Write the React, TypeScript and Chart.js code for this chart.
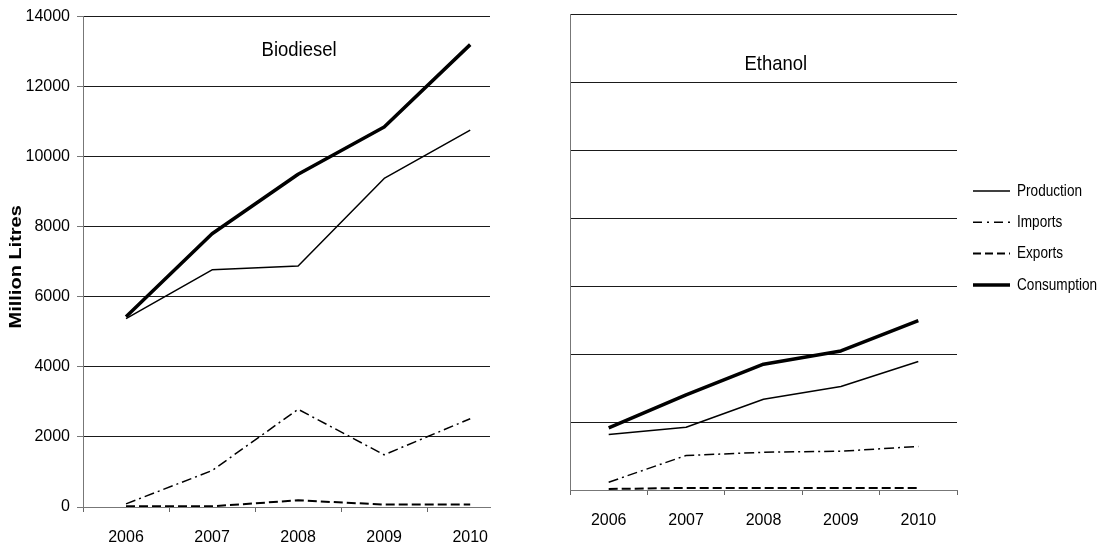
import { useEffect, useRef } from 'react';
import { Chart, registerables } from 'chart.js';

Chart.register(...registerables);

// ---- Data ----
const years = [2006, 2007, 2008, 2009, 2010];
const seriesNames = ['Production', 'Imports', 'Exports', 'Consumption'];

const biodieselProduction = [5380, 6770, 6880, 9380, 10760];
const biodieselImports = [90, 1040, 2790, 1490, 2520];
const biodieselExports = [20, 20, 190, 70, 70];
const biodieselConsumption = [5430, 7800, 9500, 10850, 13200];

const ethanolProduction = [1630, 1845, 2670, 3045, 3780];
const ethanolImports = [230, 1015, 1110, 1140, 1280];
const ethanolExports = [30, 60, 60, 60, 60];
const ethanolConsumption = [1825, 2800, 3700, 4090, 4980];

const yTickValues = [0, 2000, 4000, 6000, 8000, 10000, 12000, 14000];
const yAxisTitle = 'Million Litres';

// ---- Styles ----
const FONT = "'Liberation Sans', Arial, sans-serif";
const seriesWidths = [1.5, 1.5, 2, 3.5];
const seriesDashes: number[][] = [[], [10, 4, 2, 4], [9, 4], []];
const legendDashes: number[][] = [[], [9, 5, 2, 5], [8, 4], []];

const panelTitlePlugin = {
  id: 'panelTitle',
  afterDatasetsDraw(chart: any, _args: any, opts: any) {
    if (!opts || !opts.text) return;
    const { ctx, chartArea } = chart;
    const x = chartArea.left + chartArea.width * opts.xFrac;
    const y = chartArea.top + opts.yOffset;
    ctx.save();
    ctx.font = `${opts.size}px ${FONT}`;
    ctx.fillStyle = '#000';
    ctx.textAlign = 'center';
    ctx.textBaseline = 'middle';
    ctx.translate(x, y);
    ctx.scale(opts.squeeze, 1);
    ctx.fillText(opts.text, 0, 0);
    ctx.restore();
  },
};

const axisTitlePlugin = {
  id: 'axisTitle',
  afterDraw(chart: any, _args: any, opts: any) {
    if (!opts || !opts.text) return;
    const { ctx, chartArea } = chart;
    const y = (chartArea.top + chartArea.bottom) / 2 + opts.yShift;
    ctx.save();
    ctx.font = `bold ${opts.size}px ${FONT}`;
    ctx.fillStyle = '#000';
    ctx.textAlign = 'center';
    ctx.textBaseline = 'middle';
    ctx.translate(opts.x, y);
    ctx.rotate(-Math.PI / 2);
    ctx.scale(1, opts.squeeze);
    ctx.fillText(opts.text, 0, 0);
    ctx.restore();
  },
};

const sideLegendPlugin = {
  id: 'sideLegend',
  afterDraw(chart: any, _args: any, opts: any) {
    if (!opts || !opts.show) return;
    const { ctx, chartArea } = chart;
    const x0 = chartArea.right + opts.gap;
    const textX = x0 + opts.lineLength + opts.textGap;
    chart.data.datasets.forEach((ds: any, i: number) => {
      const y = chartArea.top + opts.firstOffset + i * opts.step;
      ctx.save();
      ctx.strokeStyle = '#000';
      ctx.lineWidth = ds.borderWidth;
      ctx.setLineDash(legendDashes[i]);
      ctx.beginPath();
      ctx.moveTo(x0, y);
      ctx.lineTo(x0 + opts.lineLength, y);
      ctx.stroke();
      ctx.setLineDash([]);
      ctx.font = `${opts.size}px ${FONT}`;
      ctx.fillStyle = '#000';
      ctx.textAlign = 'left';
      ctx.textBaseline = 'middle';
      ctx.translate(textX, y);
      ctx.scale(opts.squeeze, 1);
      ctx.fillText(ds.label, 0, 0);
      ctx.restore();
    });
  },
};

function xTickValues(xMax: number) {
  const vals: number[] = [];
  years.forEach((y) => {
    vals.push(y - 0.5);
    vals.push(y);
  });
  vals.push(years[years.length - 1] + 0.5);
  return vals.filter((v) => v <= xMax + 1e-9);
}

type PanelSpec = {
  values: number[][];
  xMax: number;
  title: string;
  titleXFrac: number;
  titleYOffset: number;
  showYLabels: boolean;
  yAxisWidth: number;
  xAxisHeight: number;
  padding: { top: number; right: number; left: number; bottom: number };
  axisTitle: boolean;
  legend: boolean;
};

function buildConfig(spec: PanelSpec): any {
  const datasets = seriesNames.map((name, i) => ({
    label: name,
    data: years.map((yr, j) => ({ x: yr, y: spec.values[i][j] })),
    borderColor: '#000',
    backgroundColor: '#000',
    borderWidth: seriesWidths[i],
    borderDash: seriesDashes[i],
    pointRadius: 0,
    pointHoverRadius: 0,
    tension: 0,
    fill: false,
    borderJoinStyle: 'round',
  }));
  return {
    type: 'line',
    data: { datasets },
    plugins: [panelTitlePlugin, axisTitlePlugin, sideLegendPlugin],
    options: {
      animation: false,
      responsive: false,
      events: [],
      layout: { padding: spec.padding },
      scales: {
        x: {
          type: 'linear',
          min: years[0] - 0.5,
          max: spec.xMax,
          afterBuildTicks: (scale: any) => {
            scale.ticks = xTickValues(spec.xMax).map((v) => ({ value: v }));
          },
          afterFit: (scale: any) => {
            scale.height = spec.xAxisHeight;
          },
          grid: {
            drawOnChartArea: false,
            drawTicks: true,
            tickLength: 5,
            lineWidth: 1,
            color: (c: any) =>
              c.tick && years.includes(c.tick.value) ? 'rgba(0,0,0,0)' : '#666',
          },
          border: { display: true, color: '#777', width: 1 },
          ticks: {
            autoSkip: false,
            maxRotation: 0,
            minRotation: 0,
            padding: 16,
            color: '#000',
            font: { family: FONT, size: 16 },
            callback: (v: any) => (years.includes(v) ? String(v) : ''),
          },
        },
        y: {
          type: 'linear',
          min: yTickValues[0],
          max: yTickValues[yTickValues.length - 1],
          afterBuildTicks: (scale: any) => {
            scale.ticks = yTickValues.map((v) => ({ value: v }));
          },
          afterFit: (scale: any) => {
            scale.width = spec.yAxisWidth;
          },
          grid: {
            drawTicks: spec.showYLabels,
            tickLength: 6,
            lineWidth: 1,
            tickColor: '#777',
            color: (c: any) => (c.tick && c.tick.value === 0 ? '#777' : '#1a1a1a'),
          },
          border: { display: true, color: '#777', width: 1 },
          ticks: {
            display: spec.showYLabels,
            padding: 7,
            color: '#000',
            font: { family: FONT, size: 16 },
            callback: (v: any) => String(v),
          },
        },
      },
      plugins: {
        legend: { display: false },
        tooltip: { enabled: false },
        panelTitle: {
          text: spec.title,
          xFrac: spec.titleXFrac,
          yOffset: spec.titleYOffset,
          size: 21,
          squeeze: 0.88,
        },
        axisTitle: spec.axisTitle
          ? { text: yAxisTitle, x: 17, yShift: 5, size: 20, squeeze: 0.8 }
          : false,
        sideLegend: spec.legend
          ? {
              show: true,
              gap: 16,
              lineLength: 37,
              textGap: 7,
              firstOffset: 177,
              step: 31.3,
              size: 17,
              squeeze: 0.8,
            }
          : false,
      },
    },
  };
}

export default function App() {
  const leftRef = useRef<HTMLCanvasElement | null>(null);
  const rightRef = useRef<HTMLCanvasElement | null>(null);

  useEffect(() => {
    const left = new Chart(
      leftRef.current as HTMLCanvasElement,
      buildConfig({
        values: [biodieselProduction, biodieselImports, biodieselExports, biodieselConsumption],
        xMax: 2010.23,
        title: 'Biodiesel',
        titleXFrac: 0.531,
        titleYOffset: 34,
        showYLabels: true,
        yAxisWidth: 83,
        xAxisHeight: 42,
        padding: { top: 16, right: 30, left: 0, bottom: 0 },
        axisTitle: true,
        legend: false,
      })
    );
    const right = new Chart(
      rightRef.current as HTMLCanvasElement,
      buildConfig({
        values: [ethanolProduction, ethanolImports, ethanolExports, ethanolConsumption],
        xMax: 2010.5,
        title: 'Ethanol',
        titleXFrac: 0.532,
        titleYOffset: 50,
        showYLabels: false,
        yAxisWidth: 40,
        xAxisHeight: 59,
        padding: { top: 14, right: 142, left: 0, bottom: 0 },
        axisTitle: false,
        legend: true,
      })
    );
    return () => {
      left.destroy();
      right.destroy();
    };
  }, []);

  return (
    <div
      style={{
        position: 'absolute',
        left: 0,
        top: 0,
        width: 1099,
        height: 549,
        background: '#fff',
        overflow: 'hidden',
      }}
    >
      <canvas
        ref={leftRef}
        width={520}
        height={549}
        style={{ position: 'absolute', left: 0, top: 0, width: 520, height: 549 }}
      />
      <canvas
        ref={rightRef}
        width={569}
        height={549}
        style={{ position: 'absolute', left: 530, top: 0, width: 569, height: 549 }}
      />
    </div>
  );
}
